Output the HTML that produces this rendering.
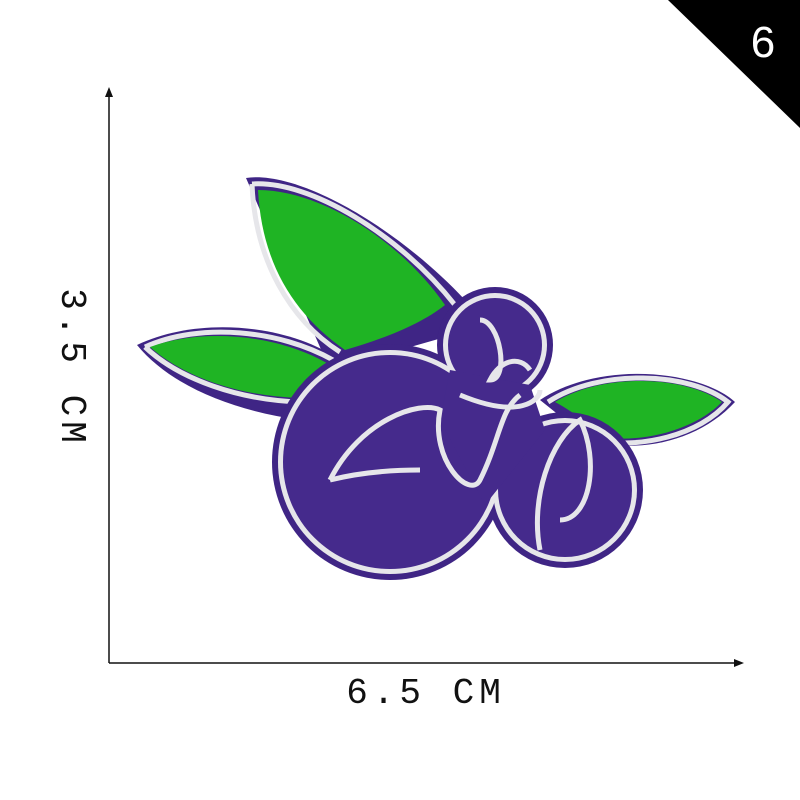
<!DOCTYPE html>
<html><head><meta charset="utf-8"><style>
html,body{margin:0;padding:0;background:#fff;width:800px;height:800px;overflow:hidden}
svg{display:block}
</style></head><body>
<svg width="800" height="800" viewBox="0 0 800 800">
  <polygon points="668,0 800,0 800,128" fill="#000"/>
  <text x="763" y="57" font-family="Liberation Sans, sans-serif" font-size="44" fill="#fff" text-anchor="middle">6</text>

  <g>
    <line x1="109" y1="95" x2="109" y2="663" stroke="#111" stroke-width="1.5"/>
    <polygon points="109,87 105,97 113,97" fill="#111"/>
    <line x1="109" y1="663" x2="736" y2="663" stroke="#111" stroke-width="1.5"/>
    <polygon points="744,663 734,659 734,667" fill="#111"/>
  </g>
  <text transform="translate(62,368) rotate(90)" font-family="Liberation Mono, monospace" font-size="36" letter-spacing="5" fill="#111" text-anchor="middle">3.5 CM</text>
  <text x="426" y="703" font-family="Liberation Mono, monospace" font-size="36" letter-spacing="5" fill="#111" text-anchor="middle">6.5 CM</text>

  <g>
    <g fill="#3f2585">
      <path d="M246,178 C300,170 400,230 465,300 L470,330 L330,370 Z"/>
      <path d="M137,345 C200,315 290,325 340,360 L300,420 C230,410 170,385 137,345 Z"/>
      <path d="M540,400 C600,360 700,370 735,402 C700,440 640,455 590,440 Z"/>
    </g>
    <g fill="none" stroke="#e6e6ea" stroke-width="5">
      <path d="M252,184 C310,180 400,235 455,305"/>
      <path d="M252,184 C255,260 290,320 340,352"/>
      <path d="M145,347 C200,322 280,330 333,360"/>
      <path d="M145,347 C180,380 240,400 300,402"/>
      <path d="M548,402 C600,368 690,372 728,402 C700,435 640,450 590,440"/>
    </g>
    <g fill="#1fb424">
      <path d="M258,190 C320,190 400,240 445,305 C420,325 380,340 345,350 C295,315 262,265 258,190 Z"/>
      <path d="M150,347 C205,327 280,335 330,365 C320,385 310,395 300,398 C240,396 185,378 150,347 Z"/>
      <path d="M555,402 C605,372 685,376 722,402 C695,430 640,445 595,436 C585,420 570,410 555,402 Z"/>
    </g>
    <g fill="#3f2585">
      <circle cx="390" cy="462" r="118"/>
      <circle cx="495" cy="345" r="58"/>
      <circle cx="565" cy="490" r="78"/>
    </g>
    <g fill="#e6e6ea">
      <circle cx="390" cy="462" r="112"/>
      <circle cx="495" cy="345" r="52"/>
      <circle cx="565" cy="490" r="72"/>
    </g>
    <g fill="#452a8c">
      <circle cx="390" cy="462" r="107"/>
      <circle cx="565" cy="490" r="67"/>
      <circle cx="495" cy="345" r="47"/>
      <polygon points="450,370 530,385 545,430 485,505 440,420"/>
    </g>
    <g fill="none" stroke="#e6e6ea" stroke-width="5">
      <path d="M330,480 C360,420 420,400 440,410 C430,460 470,500 480,480 C500,440 500,410 520,395"/>
      <path d="M330,480 C370,470 410,470 420,470"/>
      <path d="M540,550 C530,500 550,440 580,420 C600,460 590,520 560,520"/>
      <path d="M480,320 C500,320 510,380 490,380 C500,360 520,355 530,370"/>
      <path d="M460,395 C520,420 540,400 540,390"/>
    </g>
  </g>
</svg>
</body></html>
